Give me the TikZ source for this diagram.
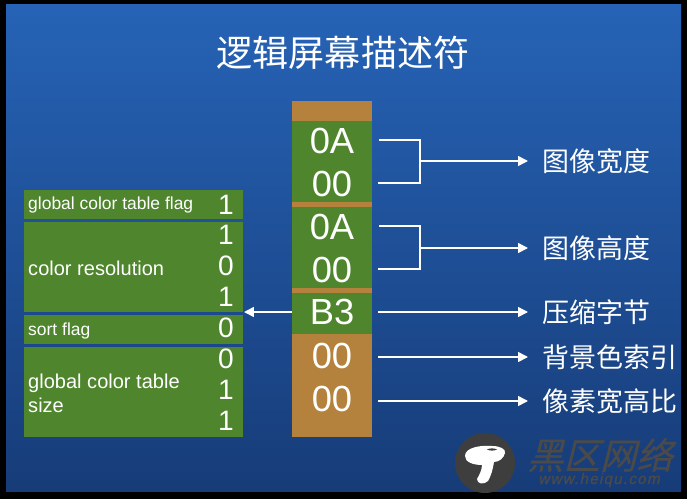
\documentclass[tikz,border=0pt]{standalone}
\usepackage{fontspec}
\setmainfont{Liberation Sans}
\newfontfamily\cjk{Noto Sans CJK SC}
\newfontfamily\cjkslant[FakeSlant=0.25,FakeBold=0.6]{Noto Sans CJK SC}
\newfontfamily\urlfont[LetterSpace=8,FakeSlant=0.2,FakeBold=1]{Liberation Sans}
\usetikzlibrary{arrows.meta, positioning}
\definecolor{leafgreen}{HTML}{4F862D}
\definecolor{clay}{HTML}{B4823C}
\definecolor{skytop}{HTML}{2663B6}
\definecolor{skybot}{HTML}{173C78}
\definecolor{markgray}{HTML}{3E3E3E}
\definecolor{textgray}{HTML}{4A4A4A}
\tikzset{
  greenbox/.style={fill=leafgreen, minimum width=219*0.03cm, anchor=north west, inner sep=0pt},
  cellbox/.style={minimum width=80*0.03cm, anchor=north west, inner sep=0pt},
  hexval/.style={text=white, font=\fontsize{31}{31}\selectfont},
  bitval/.style={text=white, font=\fontsize{24}{24}\selectfont},
  fieldname/.style={text=white, anchor=west, align=left, inner sep=0pt},
  fieldlabel/.style={text=white, anchor=west, inner sep=0pt, font=\cjk\fontsize{23}{23}\selectfont},
  wire/.style={white, line width=1.3pt},
  wirearrow/.style={wire, -{Triangle[length=8.5pt, width=8.5pt]}}
}

\begin{document}
\begin{tikzpicture}[x=0.03cm, y=-0.03cm]
        \useasboundingbox (0,0) rectangle (687,499);
        \fill[black] (0,0) rectangle (687,499);
        \shade[top color=skytop, bottom color=skybot] (6,4) rectangle (681,491);
        \node[text=white, font=\cjk\fontsize{30.8}{31}\selectfont] (title) at (343,53) {逻辑屏幕描述符};
        % byte column
        \node[cellbox, fill=clay, minimum height=336*0.03cm] (col) at (292,101) {};
        \node[cellbox, fill=leafgreen, minimum height=81*0.03cm] (w) at (292,121) {};
        \node[cellbox, fill=leafgreen, minimum height=81*0.03cm] (h) at (292,207) {};
        \node[cellbox, fill=leafgreen, minimum height=41*0.03cm] (b) at (292,293) {};
        \node[hexval] (w0) at (332,141) {0A};
        \node[hexval] (w1) at (332,184) {00};
        \node[hexval] (h0) at (332,227) {0A};
        \node[hexval] (h1) at (332,270) {00};
        \node[hexval] (b3) at (332,312) {B3};
        \node[hexval] (bg) at (332,356) {00};
        \node[hexval] (ar) at (332,399) {00};
        % packed fields
        \node[greenbox, minimum height=29*0.03cm] (f1) at (24,190) {};
        \node[greenbox, minimum height=90*0.03cm] (f2) at (24,222) {};
        \node[greenbox, minimum height=29*0.03cm] (f3) at (24,315) {};
        \node[greenbox, minimum height=90*0.03cm] (f4) at (24,347) {};
        \node[fieldname, font=\fontsize{14.9}{17}\selectfont] (n1) at (28,205) {global color table flag};
        \node[fieldname, font=\fontsize{17.1}{20.5}\selectfont] (n2) at (28,268) {color resolution};
        \node[fieldname, font=\fontsize{14.9}{17}\selectfont] (n3) at (28,331) {sort flag};
        \node[fieldname, font=\fontsize{17.1}{20.5}\selectfont] (n4) at (28,393) {global color table\\size};
        \node[bitval] (d1) at (226,205) {1};
        \node[bitval] (d2) at (226,235) {1};
        \node[bitval] (d3) at (226,266) {0};
        \node[bitval] (d4) at (226,297) {1};
        \node[bitval] (d5) at (226,328) {0};
        \node[bitval] (d6) at (226,359) {0};
        \node[bitval] (d7) at (226,390) {1};
        \node[bitval] (d8) at (226,421) {1};
        % labels on the right
        \node[fieldlabel] (lw) at (542,161) {图像宽度};
        \node[fieldlabel] (lh) at (542,248) {图像高度};
        \node[fieldlabel] (lb) at (542,312) {压缩字节};
        \node[fieldlabel] (lg) at (542,357) {背景色索引};
        \node[fieldlabel] (lr) at (542,401) {像素宽高比};
        \coordinate (wt) at (379,140); \coordinate (wb) at (378,183); \coordinate (wj) at (420,161);
        \coordinate (ht) at (379,226); \coordinate (hb) at (378,269); \coordinate (hj) at (420,248);
        \coordinate (bs) at (378,312); \coordinate (gs) at (378,357); \coordinate (rs) at (378,401);
        \coordinate (we) at (528,161); \coordinate (he) at (528,248); \coordinate (be) at (528,312);
        \coordinate (ge) at (528,357); \coordinate (re) at (528,401);
        \draw[wire] (wt) -- (420,140) -- (420,183) -- (wb);
        \draw[wire] (ht) -- (420,226) -- (420,269) -- (hb);
        \draw[wirearrow] (wj) -- (we);
        \draw[wirearrow] (hj) -- (he);
        \draw[wirearrow] (bs) -- (be);
        \draw[wirearrow] (gs) -- (ge);
        \draw[wirearrow] (rs) -- (re);
        \coordinate (fe) at (244,312);
        \draw[wirearrow] (b.west |- fe) -- (fe);
        % watermark
        \node[circle, fill=markgray, minimum size=60*0.03cm, inner sep=0pt] (logo) at (485,463) {};
        \fill[white] (465,456) .. controls (465,447) and (482,445) .. (492,446) .. controls (500,446) and (506,449) .. (505,453) .. controls (504,458) and (499,462) .. (494,462) .. controls (493,469) and (491,476) .. (488,481) .. controls (484,485) and (477,484) .. (477,479) .. controls (480,474) and (482,469) .. (482,465) .. controls (473,465) and (465,462) .. (465,456) -- cycle;
        \fill[markgray] (487,449.5) .. controls (490,448) and (494,448) .. (497,449.5) .. controls (494,451) and (490,451) .. (487,449.5) -- cycle;
        \node[text=textgray, font=\cjkslant\fontsize{31}{31}\selectfont] (mark) at (600,455) {黑区网络};
        \node[text=textgray, font=\urlfont\fontsize{13}{13}\selectfont] (url) at (599,480) {www.heiqu.com};
      \end{tikzpicture}
\end{document}
